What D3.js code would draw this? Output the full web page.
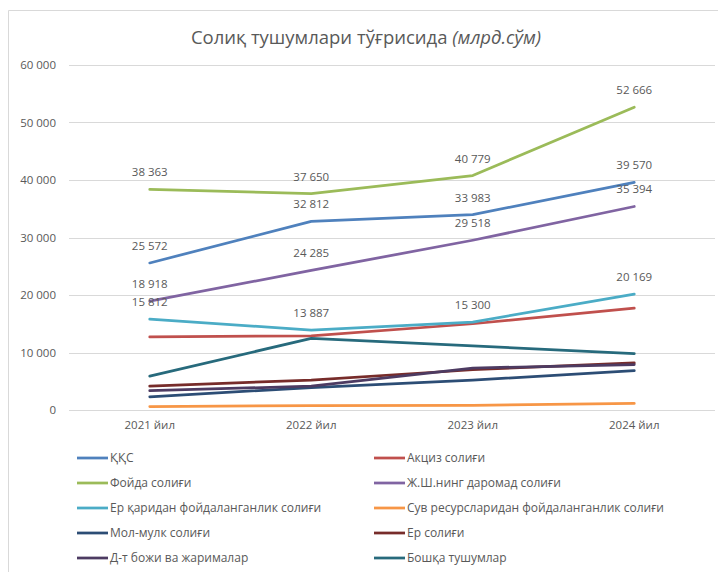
<!DOCTYPE html>
<html>
<head>
<meta charset="utf-8">
<script src="https://cdn.jsdelivr.net/npm/d3@7"></script>
<style>
  body { margin: 0; background: #fff; }
  text { font-family: "Open Sans", "Noto Sans", sans-serif; fill: #595959; }
</style>
</head>
<body>
<svg id="chart"></svg>
<script>
// categories
const years = ["2021 йил", "2022 йил", "2023 йил", "2024 йил"];

// series values (млрд. сўм)
const qqs     = [25572, 32812, 33983, 39570];
const aksiz   = [12700, 12900, 15000, 17700];
const foyda   = [38363, 37650, 40779, 52666];
const jsh     = [18918, 24285, 29518, 35394];
const yerQa   = [15812, 13887, 15300, 20169];
const suv     = [600, 750, 800, 1150];
const molMulk = [2300, 3900, 5200, 6850];
const yerSol  = [4150, 5200, 7000, 8200];
const davBoj  = [3350, 4150, 7300, 7900];
const boshqa  = [5900, 12450, 11150, 9800];

const seriesNames = ["ҚҚС", "Акциз солиғи", "Фойда солиғи", "Ж.Ш.нинг даромад солиғи",
  "Ер қаридан фойдаланганлик солиғи", "Сув ресурсларидан фойдаланганлик солиғи",
  "Мол-мулк солиғи", "Ер солиғи", "Д-т божи ва жарималар", "Бошқа тушумлар"];
const seriesValues = [qqs, aksiz, foyda, jsh, yerQa, suv, molMulk, yerSol, davBoj, boshqa];
const seriesColors = ["#4F81BD", "#C0504D", "#9BBB59", "#8064A2", "#4BACC6",
  "#F79646", "#2C4D75", "#772C2A", "#4D3B62", "#276A7C"];
// which series carry data labels
const labelled = ["ҚҚС", "Фойда солиғи", "Ж.Ш.нинг даромад солиғи", "Ер қаридан фойдаланганлик солиғи"];

const yTicks = [0, 10000, 20000, 30000, 40000, 50000, 60000];

const series = seriesNames.map((name, i) => ({
  name, color: seriesColors[i],
  values: seriesValues[i].map((v, j) => ({year: years[j], value: v}))
}));

const W = 718, H = 572;
const svg = d3.select("#chart").attr("width", W).attr("height", H);

// chart frame (cut off at right and bottom)
svg.append("path")
  .attr("d", "M8.5,572 V10.5 H718")
  .attr("fill", "none").attr("stroke", "#D9D9D9").attr("stroke-width", 1);

// title
const title = svg.append("text")
  .attr("x", 366).attr("y", 44)
  .attr("text-anchor", "middle")
  .style("font-size", "18.5px");
title.append("tspan").text("Солиқ тушумлари тўғрисида ");
title.append("tspan").style("font-style", "italic").text("(млрд.сўм)");

const plot = {left: 69, right: 715, top: 65, bottom: 410};

const x = d3.scaleBand().domain(years).range([plot.left, plot.right]);
const y = d3.scaleLinear().domain([0, 60000]).range([plot.bottom, plot.top]);

const fmt = v => d3.format(",")(v).replace(/,/g, " ");

// gridlines
svg.append("g")
  .selectAll("line").data(yTicks).join("line")
  .attr("x1", plot.left).attr("x2", plot.right)
  .attr("y1", d => Math.round(y(d)) + 0.5).attr("y2", d => Math.round(y(d)) + 0.5)
  .attr("stroke", "#D9D9D9").attr("stroke-width", 1);

// y axis labels
const yAxis = svg.append("g")
  .attr("transform", `translate(${plot.left - 13},0)`)
  .call(d3.axisLeft(y).tickValues(yTicks).tickFormat(fmt).tickSize(0).tickPadding(0));
yAxis.select(".domain").remove();
yAxis.selectAll("text").style("font-size", "11.5px").attr("fill", "#595959");

// x axis labels
const xAxis = svg.append("g")
  .attr("transform", `translate(0,${plot.bottom})`)
  .call(d3.axisBottom(x).tickSize(0).tickPadding(11));
xAxis.select(".domain").remove();
xAxis.selectAll("text").style("font-size", "11.5px").attr("fill", "#595959");

// lines
const line = d3.line()
  .x(d => x(d.year) + x.bandwidth() / 2)
  .y(d => y(d.value));

svg.append("g")
  .selectAll("path").data(series).join("path")
  .attr("d", d => line(d.values))
  .attr("fill", "none")
  .attr("stroke", d => d.color)
  .attr("stroke-width", 2.75)
  .attr("stroke-linejoin", "round")
  .attr("stroke-linecap", "round");

// data labels
svg.append("g")
  .selectAll("g").data(series.filter(s => labelled.includes(s.name))).join("g")
  .selectAll("text").data(d => d.values).join("text")
  .attr("x", d => x(d.year) + x.bandwidth() / 2)
  .attr("y", d => y(d.value) - 13)
  .attr("text-anchor", "middle")
  .style("font-size", "11.5px")
  .text(d => fmt(d.value));

// legend: two columns, row-major
const legend = svg.append("g").selectAll("g").data(series).join("g")
  .attr("transform", (d, i) => `translate(${i % 2 === 0 ? 77 : 374},${458 + Math.floor(i / 2) * 25})`);
legend.append("line")
  .attr("x1", 0).attr("x2", 31)
  .attr("stroke", d => d.color).attr("stroke-width", 2.75);
legend.append("text")
  .attr("x", 33).attr("dy", "0.35em")
  .style("font-size", "12px")
  .text(d => d.name);
</script>
</body>
</html>
